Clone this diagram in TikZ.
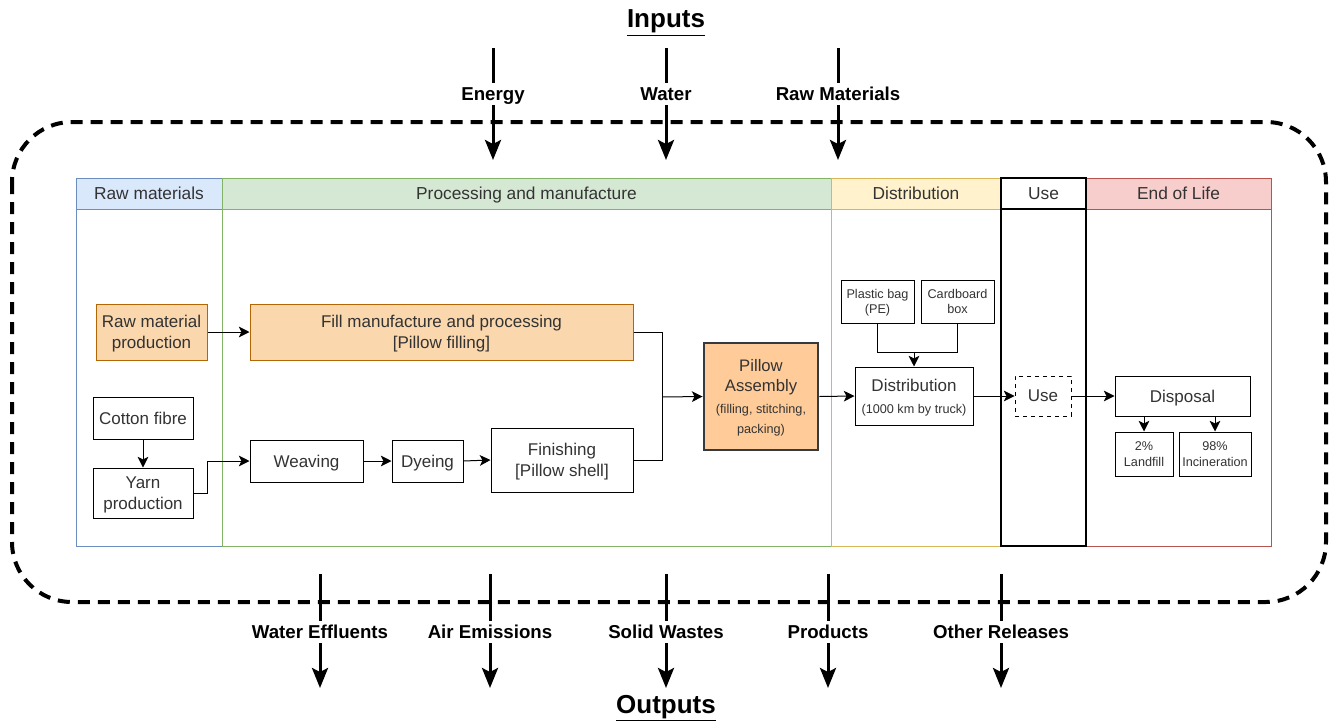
\documentclass[tikz,border=0pt]{standalone}
\usepackage{fontspec}
\setmainfont{Liberation Sans}
\usetikzlibrary{arrows.meta}
\definecolor{blueF}{HTML}{DAE8FC}\definecolor{blueS}{HTML}{6C8EBF}
\definecolor{greenF}{HTML}{D5E8D4}\definecolor{greenS}{HTML}{82B366}
\definecolor{yellowF}{HTML}{FFF2CC}\definecolor{yellowS}{HTML}{D6B656}
\definecolor{redF}{HTML}{F8CECC}\definecolor{redS}{HTML}{B85450}
\definecolor{orangeF}{HTML}{FAD7AC}\definecolor{orangeS}{HTML}{B46504}
\definecolor{asmF}{HTML}{FFCC99}\definecolor{asmS}{HTML}{36393D}
\definecolor{txt}{HTML}{333333}
\tikzset{
  x=0.75pt, y=-0.75pt,
  rect/.style n args={4}{minimum width={(#3-#1)*0.75pt}, minimum height={(#4-#2)*0.75pt},
    at={({(#1+#3)/2},{(#2+#4)/2})}},
  box/.style={draw=black, line width=0.75pt, fill=white, inner sep=0pt, align=center,
    text depth=0pt, text=txt, font=\fontsize{12.75}{15.5}\selectfont},
  obox/.style={box, fill=orangeF, draw=orangeS},
  smallbox/.style={box, font=\fontsize{9.5}{11.5}\selectfont},
  hdr/.style={draw, line width=0.75pt, inner sep=0pt, text=txt, text depth=0pt, font=\fontsize{13}{15}\selectfont},
  lanebody/.style={line width=0.75pt, fill=white},
  arr/.style={-{Stealth[length=8pt,width=8pt,inset=2pt]}, line width=0.75pt},
  plain/.style={line width=0.75pt},
  big/.style={-{Stealth[length=15pt,width=12pt,inset=3pt]}, line width=2.25pt},
  lbl/.style={fill=white, inner xsep=2pt, inner ysep=3.5pt, text depth=0pt, font=\bfseries\fontsize{14}{16}\selectfont},
  ttl/.style={inner sep=0pt, font=\bfseries\fontsize{19.5}{22}\selectfont},
  border/.style={line width=3pt, dash pattern=on 9pt off 6pt, rounded corners=45pt}
}
\begin{document}
\begin{tikzpicture}
\useasboundingbox (0,0) rectangle (1336,725);

% system boundary
\draw[border] (12,122) rectangle (1326,602);

% lanes
\draw[lanebody, draw=blueS] (76,209) rectangle (222,546);
\draw[lanebody, draw=greenS] (222,209) rectangle (831,546);
\draw[lanebody, draw=yellowS] (831,209) rectangle (1001,546);
\draw[lanebody, draw=redS] (1086,209) rectangle (1271,546);
\draw[lanebody, draw=black, line width=0.9pt] (1001,209) rectangle (1086,546);
\node[hdr, fill=blueF, draw=blueS, rect={76}{178}{222}{209}] (hRaw) {Raw materials};
\node[hdr, fill=greenF, draw=greenS, rect={222}{178}{831}{209}] (hProc) {Processing and manufacture};
\node[hdr, fill=yellowF, draw=yellowS, rect={831}{178}{1001}{209}] (hDist) {Distribution};
\node[hdr, fill=redF, draw=redS, rect={1086}{178}{1271}{209}] (hEol) {End of Life};
\node[hdr, fill=white, draw=black, line width=0.9pt, rect={1001}{178}{1086}{209}] (hUse) {Use};

% process nodes
\node[obox, rect={96}{304}{207}{360}] (rmp) {Raw material\\production};
\node[obox, rect={250}{304}{633}{360}] (fill) {Fill manufacture and processing\\{}[Pillow filling]};
\node[box, rect={93}{397}{193}{439}] (cot) {Cotton fibre};
\node[box, rect={93}{468}{193}{518}] (yarn) {Yarn\\production};
\node[box, rect={250}{440}{363}{482}] (weav) {Weaving};
\node[box, rect={392}{440}{463}{482}] (dye) {Dyeing};
\node[box, rect={491}{428}{633}{492}] (fin) {Finishing\\{}[Pillow shell]};
\node[box, fill=asmF, draw=asmS, line width=2.2pt, rect={704}{343}{818}{450},
      font=\fontsize{12.5}{15}\selectfont] (pa)
  {Pillow\\Assembly\\[1pt]{\fontsize{9.5}{15}\selectfont (filling, stitching,}\\{\fontsize{9.5}{15}\selectfont packing)}};
\node[smallbox, rect={841}{280}{914}{323}] (pb) {Plastic bag\\(PE)};
\node[smallbox, rect={921}{280}{994}{323}] (cb) {Cardboard\\box};
\node[box, rect={855}{367}{973}{425}] (dist)
  {Distribution\\[1pt]{\fontsize{9.5}{12}\selectfont (1000 km by truck)}};
\node[box, dashed, rect={1015}{376}{1071}{416}] (use) {Use};
\node[box, rect={1115}{376}{1250}{416}] (disp) {Disposal};
\node[smallbox, rect={1115}{432}{1173}{476}] (land) {2\%\\Landfill};
\node[smallbox, rect={1179}{432}{1251}{476}] (inc) {98\%\\Incineration};

% connectors
\coordinate (ymid) at (207,461);
\coordinate (merge) at (662,397);
\coordinate (pk) at (914,352);
\draw[arr] (rmp.east) -- (fill.west);
\draw[arr] (cot.south) -- (yarn.north);
\draw[arr] (yarn.east) -| (ymid) -- (weav.west);
\draw[arr] (weav.east) -- (dye.west);
\draw[arr] (dye.east) -- (fin.west);
\draw[plain] (fill.east) -| (merge);
\draw[plain] (fin.east) -| (merge);
\draw[arr] (merge) -- (pa.west);
\draw[arr] (pa.east) -- (dist.west);
\draw[plain] (pb.south) |- (pk);
\draw[plain] (cb.south) |- (pk);
\draw[arr] (pk) -- (dist.north);
\draw[arr] (dist.east) -- (use.west);
\draw[arr] (use.east) -- (disp.west);
\draw[arr] (land.north |- disp.south) -- (land.north);
\draw[arr] (inc.north |- disp.south) -- (inc.north);

% inputs
\node[ttl] (inputs) at (666,23) {\underline{Inputs}};
\foreach \n/\x/\t in {en/493/Energy, wa/666/Water, rm/838/Raw Materials}{
  \coordinate (\n Top) at (\x,48);
  \coordinate (\n Tip) at (\x,160);
  \draw[big] (\n Top) -- (\n Tip);
  \node[lbl] (\n Lbl) at (\x,94) {\t};
}

% outputs
\foreach \n/\x/\t in {we/320/Water Effluents, ae/490/Air Emissions, sw/666/Solid Wastes, pr/828/Products, ot/1001/Other Releases}{
  \coordinate (\n Top) at (\x,574);
  \coordinate (\n Tip) at (\x,688);
  \draw[big] (\n Top) -- (\n Tip);
  \node[lbl] (\n Lbl) at (\x,632) {\t};
}
\node[ttl] (outputs) at (666,708) {\underline{Outputs}};
\end{tikzpicture}
\end{document}
